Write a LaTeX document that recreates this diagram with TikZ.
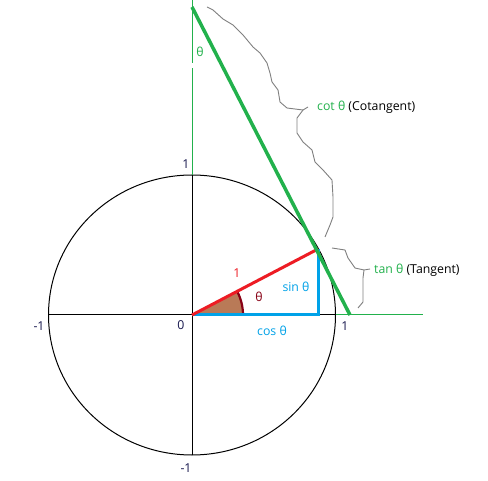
\documentclass[tikz,border=0pt]{standalone}
\usepackage{fontspec}
\setmainfont{Open Sans}
\definecolor{pgreen}{HTML}{22B14C}
\definecolor{pblue}{HTML}{00A2E8}
\definecolor{pred}{HTML}{ED1C24}
\definecolor{pbrown}{HTML}{B97A57}
\definecolor{pdark}{HTML}{880015}
\definecolor{pnavy}{HTML}{1A1A50}
\definecolor{pgray}{HTML}{808080}
\tikzset{
  lbl/.style={inner sep=0pt, font=\fontsize{12.3}{14}\selectfont},
  num/.style={lbl, text=pnavy},
  thinax/.style={line width=1pt},
  thick3/.style={line width=3pt},
  brace/.style={pgray, line width=0.9pt, line join=round}
}
\begin{document}
\begin{tikzpicture}[x=1pt,y=1pt]
\useasboundingbox (0,0) rectangle (488,480);
\fill[white] (0,0) rectangle (488,480);
% coordinates
\coordinate (O) at (192,165);
\coordinate (P) at (318,231);
\coordinate (Q) at (318,165);
\coordinate (T) at (192,473);
\coordinate (X) at (350,165);
\coordinate (L) at (49,165);
\coordinate (R) at (336,165);
\coordinate (Rend) at (423,165);
\coordinate (B) at (192,25);
\coordinate (U) at (192,305);
\coordinate (G1) at (192,412);
\coordinate (G2) at (192,417);
\coordinate (Top) at (192,480);
% circle
\draw[thinax] (O) ellipse [x radius=143.5, y radius=140];
% axes
\draw[thinax] (L) -- (R);
\draw[thinax, pgreen] (R) -- (Rend);
\draw[thinax] (B) -- (U);
\draw[thinax, pgreen] (U) -- (G1);
\draw[thinax, pgreen] (G2) -- (Top);
% angle wedge
\fill[pbrown] (O) -- (243,165) arc[start angle=0, end angle=27.65, radius=51] -- cycle;
\draw[pdark, line width=2.2pt] (243,165) arc[start angle=0, end angle=27.65, radius=51];
% sin/cos
\draw[pblue, thick3, line join=miter] (O) -- (Q) -- (P);
% radius
\draw[pred, thick3] (O) -- (P);
% tangent
\draw[pgreen, line width=3.5pt] (T) -- (X);
% braces
\draw[brace] (207,473) -- (213,470) -- (223,461) -- (233,455) -- (243,445) -- (253,433) -- (260,427) -- (267,417) -- (270,407) -- (272,398) -- (278,390) -- (280,378) -- (287,372) -- (303,370) coordinate (c1);
\draw[brace] (c1) -- (308,373);
\draw[brace] (c1) -- (297,362) -- (297,347) -- (303,338) -- (312,330) -- (315,318) -- (323,310) -- (332,300) -- (333,283) -- (333,263) -- (330,255) -- (325,243);
\draw[brace] (332,232) -- (345,230) -- (348,222) -- (355,212) -- (364,210) coordinate (c2);
\draw[brace] (c2) -- (370,211);
\draw[brace] (c2) -- (363,202) -- (363,178) -- (358,172);
% labels
\node[lbl, text=pgreen] (thtop) at (200,428) {θ};
\node[lbl, anchor=west] (cotl) at (317,373) {\textcolor{pgreen}{cot θ} (Cotangent)};
\node[lbl, anchor=west] (tanl) at (374,210) {\textcolor{pgreen}{tan θ} (Tangent)};
\node[lbl, text=pred] (one) at (237,207) {1};
\node[lbl, text=pdark] (th) at (259,183) {θ};
\node[lbl, text=pblue] (sinl) at (296,193) {sin θ};
\node[lbl, text=pblue] (cosl) at (272,149) {cos θ};
\node[num] (zero) at (181,155) {0};
\node[num] (oneR) at (345,154) {1};
\node[num] (oneL) at (39,154) {-1};
\node[num] (oneT) at (186,316) {1};
\node[num] (oneB) at (186,12) {-1};
\end{tikzpicture}
\end{document}
